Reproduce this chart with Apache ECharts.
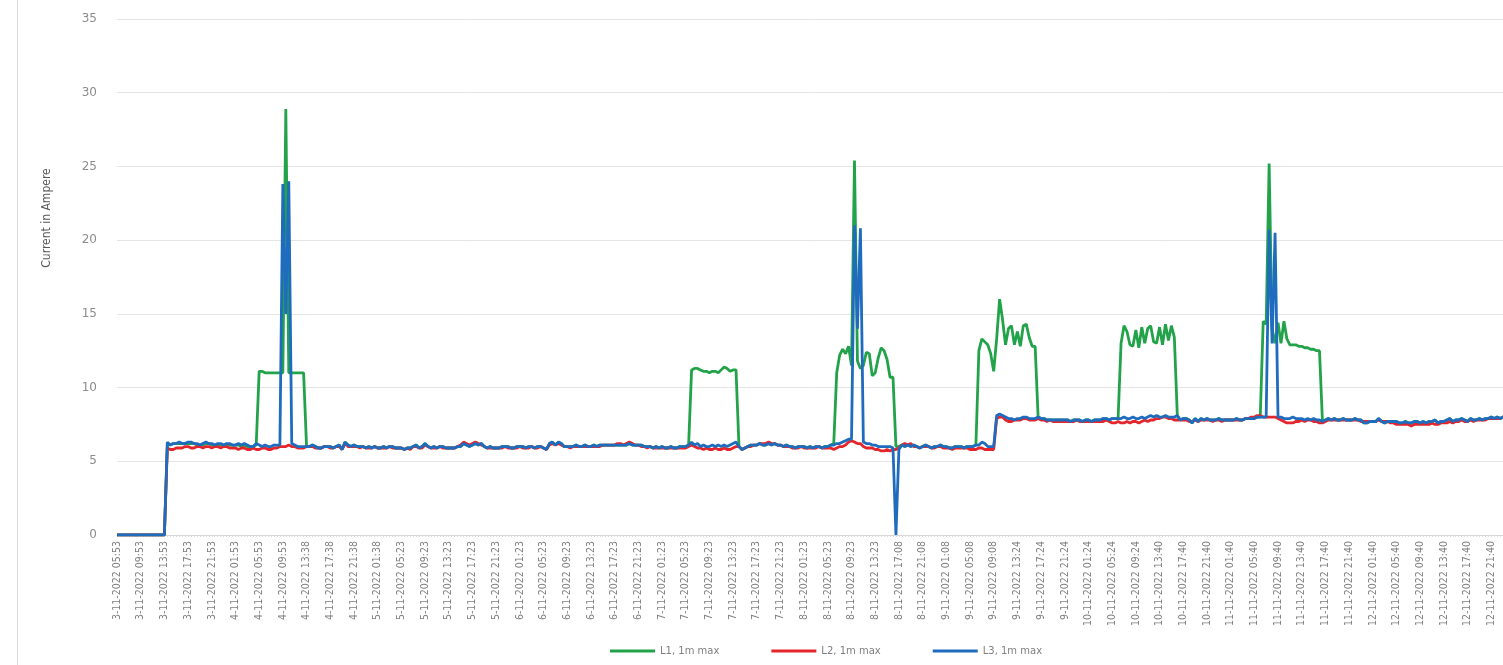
<!DOCTYPE html>
<html>
<head>
<meta charset="utf-8">
<script src="https://cdn.jsdelivr.net/npm/echarts@6/dist/echarts.min.js"></script>
<style>
html,body{margin:0;padding:0;background:#fff;overflow:hidden;width:1503px;height:665px;}
#c{position:absolute;left:0;top:0;width:1512px;height:665px;}
#frame{position:absolute;left:17px;top:0;width:1px;height:665px;background:#d9d9d9;}
</style>
</head>
<body>
<div id="frame"></div>
<div id="c"></div>
<script>
// Tick labels (one every 8 samples of 30 min)
const ticks = [
"3-11-2022 05:53","3-11-2022 09:53","3-11-2022 13:53","3-11-2022 17:53","3-11-2022 21:53",
"4-11-2022 01:53","4-11-2022 05:53","4-11-2022 09:53","4-11-2022 13:38","4-11-2022 17:38","4-11-2022 21:38",
"5-11-2022 01:38","5-11-2022 05:23","5-11-2022 09:23","5-11-2022 13:23","5-11-2022 17:23","5-11-2022 21:23",
"6-11-2022 01:23","6-11-2022 05:23","6-11-2022 09:23","6-11-2022 13:23","6-11-2022 17:23","6-11-2022 21:23",
"7-11-2022 01:23","7-11-2022 05:23","7-11-2022 09:23","7-11-2022 13:23","7-11-2022 17:23","7-11-2022 21:23",
"8-11-2022 01:23","8-11-2022 05:23","8-11-2022 09:23","8-11-2022 13:23","8-11-2022 17:08","8-11-2022 21:08",
"9-11-2022 01:08","9-11-2022 05:08","9-11-2022 09:08","9-11-2022 13:24","9-11-2022 17:24","9-11-2022 21:24",
"10-11-2022 01:24","10-11-2022 05:24","10-11-2022 09:24","10-11-2022 13:40","10-11-2022 17:40","10-11-2022 21:40",
"11-11-2022 01:40","11-11-2022 05:40","11-11-2022 09:40","11-11-2022 13:40","11-11-2022 17:40","11-11-2022 21:40",
"12-11-2022 01:40","12-11-2022 05:40","12-11-2022 09:40","12-11-2022 13:40","12-11-2022 17:40","12-11-2022 21:40"
];
const samplesPerTick = 8;

const seriesNames = ["L1, 1m max", "L2, 1m max", "L3, 1m max"];

// L1, 1m max (green)
const l1 = [
0,0,0,0,0,0,0,0,
0,0,0,0,0,0,0,0,
0,6.2,6.1,6.2,6.2,6.2,6.2,6.2,
6.2,6.2,6.2,6.1,6.1,6.1,6.2,6.2,
6.1,6.1,6.1,6.1,6.1,6.1,6.1,6.1,
6.1,6.1,6.0,6.1,6.0,6.0,6.0,6.1,
11.1,11.1,11.0,11.0,11.0,11.0,11.0,11.0,
11.0,28.9,11.0,11.0,11.0,11.0,11.0,11.0,
6.0,6.0,6.1,6.0,5.9,5.9,6.0,6.0,
6.0,5.9,6.0,6.1,5.8,6.3,6.1,6.0,
6.1,6.0,6.0,6.0,5.9,6.0,5.9,6.0,
5.9,5.9,6.0,5.9,6.0,6.0,5.9,5.9,
5.9,5.8,5.9,5.9,6.0,6.1,5.9,6.0,
6.2,6.0,5.9,6.0,5.9,6.0,6.0,5.9,
5.9,5.9,5.9,6.0,6.0,6.2,6.1,6.0,
6.1,6.2,6.1,6.2,6.0,5.9,6.0,5.9,
5.9,5.9,6.0,6.0,6.0,5.9,5.9,6.0,
6.0,6.0,5.9,6.0,6.0,5.9,6.0,6.0,
5.9,5.8,6.2,6.3,6.1,6.3,6.2,6.0,
6.0,6.0,6.0,6.1,6.0,6.0,6.1,6.0,
6.0,6.1,6.0,6.1,6.1,6.1,6.1,6.1,
6.1,6.1,6.1,6.1,6.1,6.2,6.1,6.1,
6.1,6.1,6.0,6.0,6.0,5.9,6.0,5.9,
6.0,5.9,5.9,6.0,5.9,5.9,6.0,6.0,
6.0,6.1,11.2,11.3,11.3,11.2,11.1,11.1,
11.0,11.1,11.1,11.0,11.2,11.4,11.3,11.1,
11.2,11.2,6.0,5.8,5.9,6.0,6.1,6.1,
6.1,6.2,6.1,6.1,6.2,6.1,6.2,6.1,
6.1,6.0,6.1,6.0,6.0,5.9,6.0,6.0,
6.0,5.9,6.0,5.9,6.0,6.0,5.9,6.0,
6.0,6.1,6.2,11.0,12.2,12.6,12.3,12.8,
11.5,25.4,11.8,11.3,11.5,12.4,12.3,10.8,
11.0,12.0,12.7,12.5,11.9,10.7,10.7,6.0,
6.0,6.1,6.0,6.1,6.0,6.1,6.0,5.9,
6.0,6.1,6.0,5.9,6.0,6.0,6.1,6.0,
6.0,5.9,5.9,6.0,6.0,6.0,5.9,6.0,
6.0,6.0,6.1,12.5,13.3,13.1,12.9,12.3,
11.1,13.3,16.0,14.6,12.9,14.0,14.2,12.9,
13.8,12.8,14.2,14.3,13.4,12.8,12.8,8.0,
7.9,7.9,7.8,7.8,7.8,7.8,7.8,7.8,
7.8,7.8,7.7,7.8,7.8,7.8,7.7,7.8,
7.8,7.7,7.8,7.8,7.8,7.9,7.9,7.8,
7.9,7.9,7.9,13.0,14.2,13.8,12.9,12.8,
13.9,12.7,14.1,13.0,14.0,14.2,13.1,13.0,
14.1,12.9,14.3,13.2,14.2,13.4,8.1,7.8,
7.9,7.9,7.8,7.6,7.9,7.7,7.9,7.8,
7.9,7.8,7.8,7.8,7.9,7.8,7.8,7.8,
7.8,7.8,7.9,7.8,7.8,7.9,7.9,7.9,
7.9,8.0,8.0,14.5,14.3,25.2,14.0,13.0,
14.4,13.0,14.5,13.3,12.9,12.9,12.9,12.8,
12.8,12.7,12.7,12.6,12.6,12.5,12.5,7.7,
7.8,7.9,7.8,7.9,7.8,7.8,7.9,7.8,
7.8,7.8,7.9,7.8,7.8,7.6,7.6,7.7,
7.7,7.7,7.9,7.7,7.6,7.7,7.7,7.7,
7.7,7.6,7.6,7.7,7.6,7.6,7.7,7.7,
7.6,7.7,7.6,7.7,7.7,7.8,7.6,7.7,
7.7,7.8,7.9,7.7,7.8,7.8,7.9,7.8,
7.7,7.9,7.8,7.8,7.9,7.8,7.9,7.9,
8.0,7.9,8.0,7.9,8.0,8.0,8.0,8.0
];

// L2, 1m max (red)
const l2 = [
0,0,0,0,0,0,0,0,
0,0,0,0,0,0,0,0,
0,5.9,5.8,5.8,5.9,5.9,5.9,6.0,
6.0,5.9,5.9,6.0,6.0,5.9,6.0,6.0,
5.9,6.0,6.0,5.9,6.0,6.0,5.9,5.9,
5.9,5.8,5.9,5.9,5.8,5.8,5.9,5.8,
5.8,5.9,5.9,5.8,5.8,5.9,5.9,6.0,
6.0,6.0,6.1,6.0,6.0,5.9,5.9,5.9,
6.0,6.0,6.0,5.9,5.9,5.9,6.0,6.0,
5.9,5.9,6.0,6.0,5.8,6.2,6.0,6.0,
6.0,6.0,5.9,6.0,5.9,5.9,5.9,6.0,
5.9,5.9,5.9,5.9,6.0,5.9,5.9,5.9,
5.9,5.8,5.9,5.8,6.0,6.0,5.9,5.9,
6.1,6.0,5.9,5.9,5.9,6.0,5.9,5.9,
5.9,5.9,5.9,6.0,6.1,6.3,6.2,6.1,
6.2,6.3,6.2,6.1,6.0,5.9,5.9,5.9,
5.9,5.9,5.9,6.0,5.9,5.9,5.9,5.9,
6.0,5.9,5.9,5.9,6.0,5.9,5.9,6.0,
5.9,5.8,6.1,6.2,6.1,6.2,6.1,6.0,
6.0,5.9,6.0,6.0,6.0,6.0,6.0,6.0,
6.0,6.0,6.0,6.0,6.1,6.1,6.1,6.1,
6.1,6.2,6.2,6.1,6.2,6.3,6.2,6.1,
6.1,6.0,6.0,5.9,6.0,5.9,5.9,5.9,
5.9,5.9,5.9,5.9,5.9,5.9,5.9,5.9,
5.9,6.0,6.1,6.0,5.9,5.9,5.8,5.9,
5.8,5.8,5.9,5.8,5.8,5.9,5.8,5.8,
5.9,6.0,6.0,5.8,5.9,6.0,6.0,6.1,
6.1,6.2,6.2,6.2,6.3,6.2,6.2,6.1,
6.1,6.0,6.0,6.0,5.9,5.9,5.9,6.0,
5.9,5.9,5.9,5.9,5.9,6.0,5.9,5.9,
5.9,5.9,5.8,5.9,6.0,6.0,6.1,6.3,
6.4,6.3,6.2,6.2,6.0,5.9,5.9,5.9,
5.8,5.8,5.7,5.7,5.8,5.7,5.8,5.8,
5.9,6.1,6.2,6.1,6.2,6.0,6.0,5.9,
6.0,6.0,6.0,5.9,5.9,6.0,6.0,5.9,
5.9,5.9,5.8,5.9,5.9,5.9,5.9,5.9,
5.8,5.8,5.8,5.9,5.9,5.8,5.8,5.8,
5.8,7.9,8.0,8.0,7.8,7.7,7.7,7.8,
7.8,7.8,7.9,7.9,7.8,7.8,7.8,7.9,
7.8,7.8,7.7,7.8,7.7,7.7,7.7,7.7,
7.7,7.7,7.7,7.7,7.8,7.7,7.7,7.7,
7.7,7.7,7.7,7.7,7.7,7.7,7.8,7.7,
7.6,7.6,7.7,7.6,7.6,7.7,7.6,7.7,
7.7,7.6,7.7,7.8,7.7,7.8,7.8,7.9,
7.9,8.0,8.0,7.9,7.9,7.8,7.8,7.8,
7.8,7.8,7.7,7.7,7.8,7.7,7.8,7.8,
7.8,7.8,7.7,7.8,7.8,7.7,7.8,7.8,
7.8,7.8,7.8,7.8,7.8,7.9,7.9,8.0,
8.0,8.1,8.1,8.0,8.0,8.0,8.0,8.0,
7.9,7.8,7.7,7.6,7.6,7.6,7.7,7.7,
7.8,7.7,7.8,7.8,7.7,7.7,7.6,7.6,
7.7,7.8,7.8,7.8,7.8,7.8,7.8,7.8,
7.8,7.8,7.8,7.8,7.7,7.7,7.7,7.7,
7.7,7.7,7.8,7.7,7.7,7.7,7.6,7.6,
7.5,7.5,7.5,7.5,7.5,7.4,7.5,7.5,
7.5,7.5,7.5,7.5,7.6,7.5,7.5,7.6,
7.6,7.6,7.7,7.6,7.7,7.7,7.8,7.7,
7.7,7.8,7.7,7.8,7.8,7.8,7.8,7.9,
7.9,7.9,7.9,7.9,8.0,8.0,7.9,8.0
];

// L3, 1m max (blue)
const l3 = [
0,0,0,0,0,0,0,0,
0,0,0,0,0,0,0,0,
0,6.3,6.1,6.2,6.2,6.3,6.2,6.2,
6.3,6.3,6.2,6.2,6.1,6.2,6.3,6.2,
6.2,6.1,6.2,6.2,6.1,6.2,6.2,6.1,
6.1,6.2,6.1,6.2,6.1,6.0,6.0,6.2,
6.1,6.0,6.1,6.0,6.0,6.1,6.1,6.1,
23.8,15.0,24.0,6.2,6.1,6.0,6.0,6.0,
6.0,6.0,6.1,6.0,5.9,5.9,6.0,6.0,
6.0,5.9,6.0,6.1,5.8,6.3,6.1,6.0,
6.1,6.0,6.0,6.0,5.9,6.0,5.9,6.0,
5.9,5.9,6.0,5.9,6.0,6.0,5.9,5.9,
5.9,5.8,5.9,5.9,6.0,6.1,5.9,6.0,
6.2,6.0,5.9,6.0,5.9,6.0,6.0,5.9,
5.9,5.9,5.9,6.0,6.0,6.2,6.1,6.0,
6.1,6.2,6.1,6.2,6.0,5.9,6.0,5.9,
5.9,5.9,6.0,6.0,6.0,5.9,5.9,6.0,
6.0,6.0,5.9,6.0,6.0,5.9,6.0,6.0,
5.9,5.8,6.2,6.3,6.1,6.3,6.2,6.0,
6.0,6.0,6.0,6.1,6.0,6.0,6.1,6.0,
6.0,6.1,6.0,6.1,6.1,6.1,6.1,6.1,
6.1,6.1,6.1,6.1,6.1,6.2,6.1,6.1,
6.1,6.1,6.0,6.0,6.0,5.9,6.0,5.9,
6.0,5.9,5.9,6.0,5.9,5.9,6.0,6.0,
6.0,6.1,6.3,6.1,6.2,6.0,6.1,6.0,
6.0,6.1,6.0,6.1,6.0,6.1,6.0,6.1,
6.2,6.3,6.0,5.8,5.9,6.0,6.1,6.1,
6.1,6.2,6.1,6.1,6.2,6.1,6.2,6.1,
6.1,6.0,6.1,6.0,6.0,5.9,6.0,6.0,
6.0,5.9,6.0,5.9,6.0,6.0,5.9,6.0,
6.0,6.1,6.1,6.2,6.2,6.3,6.4,6.5,
6.5,21.0,14.0,20.8,6.3,6.2,6.2,6.1,
6.1,6.0,6.0,6.0,6.0,6.0,5.9,0.0,
5.8,6.1,6.0,6.1,6.0,6.1,6.0,5.9,
6.0,6.1,6.0,5.9,6.0,6.0,6.1,6.0,
6.0,5.9,5.9,6.0,6.0,6.0,5.9,6.0,
6.0,6.0,6.1,6.1,6.3,6.2,6.0,6.0,
6.0,8.1,8.2,8.1,8.0,7.9,7.9,7.8,
7.9,7.9,8.0,8.0,7.9,7.9,7.9,8.0,
7.9,7.9,7.8,7.8,7.8,7.8,7.8,7.8,
7.8,7.8,7.7,7.8,7.8,7.8,7.7,7.8,
7.8,7.7,7.8,7.8,7.8,7.9,7.9,7.8,
7.9,7.9,7.9,7.9,8.0,7.9,7.9,8.0,
7.9,7.9,8.0,7.9,8.0,8.1,8.0,8.1,
8.0,8.0,8.1,8.0,8.0,8.0,8.1,7.8,
7.9,7.9,7.8,7.6,7.9,7.7,7.9,7.8,
7.9,7.8,7.8,7.8,7.9,7.8,7.8,7.8,
7.8,7.8,7.9,7.8,7.8,7.9,7.9,7.9,
7.9,8.0,8.0,8.0,8.0,20.7,13.0,20.5,
8.0,8.0,7.9,7.9,7.9,8.0,7.9,7.9,
7.9,7.8,7.9,7.8,7.9,7.8,7.8,7.7,
7.8,7.9,7.8,7.9,7.8,7.8,7.9,7.8,
7.8,7.8,7.9,7.8,7.8,7.6,7.6,7.7,
7.7,7.7,7.9,7.7,7.6,7.7,7.7,7.7,
7.7,7.6,7.6,7.7,7.6,7.6,7.7,7.7,
7.6,7.7,7.6,7.7,7.7,7.8,7.6,7.7,
7.7,7.8,7.9,7.7,7.8,7.8,7.9,7.8,
7.7,7.9,7.8,7.8,7.9,7.8,7.9,7.9,
8.0,7.9,8.0,7.9,8.0,8.0,8.0,8.0
];

const yTicks = { min: 0, max: 35, interval: 5 };
const colors = ["#22A34A", "#E4262C", "#1F6CBF"];

// category axis: each tick label followed by hidden sub-samples
const categories = [];
ticks.forEach(function (t) {
  categories.push(t);
  for (let k = 1; k < samplesPerTick; k++) categories.push(t + " #" + k);
});

const chart = echarts.init(document.getElementById('c'), null, { renderer: 'canvas' });
chart.setOption({
  animation: false,
  backgroundColor: 'transparent',
  grid: { left: 117, right: 0, top: 19, bottom: 130, containLabel: false },
  legend: {
    data: seriesNames,
    left: 605, top: 641,
    icon: 'rect', itemWidth: 45, itemHeight: 3, itemGap: 52,
    textStyle: { color: '#808080', fontSize: 10, fontFamily: 'DejaVu Sans' }
  },
  xAxis: {
    type: 'category',
    data: categories,
    boundaryGap: false,
    axisLine: { lineStyle: { color: '#d4d4d4', width: 1 } },
    axisTick: { show: true, interval: 0, length: 2, lineStyle: { color: '#dcdcdc' } },
    axisLabel: {
      interval: samplesPerTick - 1, rotate: 90, margin: 6,
      color: '#7f7f7f', fontSize: 10.5, fontFamily: 'DejaVu Sans Condensed, DejaVu Sans'
    },
    splitLine: { show: false }
  },
  yAxis: {
    type: 'value',
    min: yTicks.min, max: yTicks.max, interval: yTicks.interval,
    name: 'Current in Ampere',
    nameLocation: 'middle',
    nameGap: 64,
    nameTextStyle: { color: '#595959', fontSize: 12, fontFamily: 'DejaVu Sans Condensed, DejaVu Sans', padding: [0, 0, 0, 118] },
    axisLine: { show: false },
    axisTick: { show: false },
    axisLabel: { color: '#8c8c8c', fontSize: 12, fontFamily: 'DejaVu Sans', margin: 20 },
    splitLine: { lineStyle: { color: '#e4e4e4', width: 1 } }
  },
  series: [
    { name: seriesNames[0], type: 'line', data: l1, symbol: 'none', color: colors[0], lineStyle: { width: 2.8, color: colors[0] }, z: 2 },
    { name: seriesNames[1], type: 'line', data: l2, symbol: 'none', color: colors[1], lineStyle: { width: 2.8, color: colors[1] }, z: 3 },
    { name: seriesNames[2], type: 'line', data: l3, symbol: 'none', color: colors[2], lineStyle: { width: 2.8, color: colors[2] }, z: 4 }
  ]
});
</script>
</body>
</html>
